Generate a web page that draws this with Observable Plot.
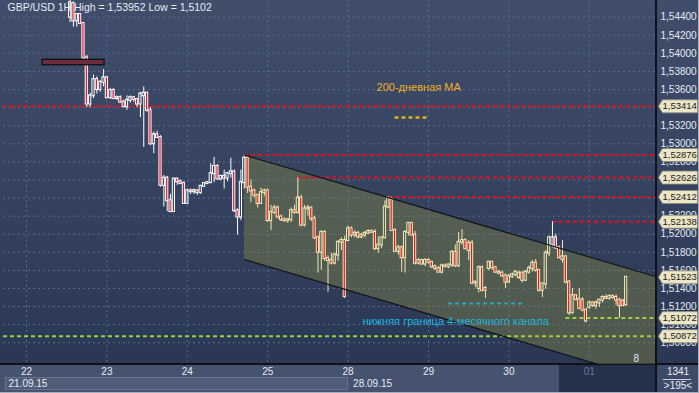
<!DOCTYPE html>
<html><head><meta charset="utf-8">
<script src="https://cdn.jsdelivr.net/npm/d3@7"></script>
<script src="https://cdn.jsdelivr.net/npm/@observablehq/plot@0.6"></script>
<style>
body{margin:0;background:#3a4866;}
#wrap{position:relative;width:699px;height:393px;overflow:hidden;font-family:"Liberation Sans",Arial,sans-serif;
 background:linear-gradient(to bottom,#404e6c 0px,#2a3856 364px,#45536f 364px,#45536f 393px);}
#wrap svg{position:absolute;left:0;top:0;}
.c{position:absolute;}
</style></head><body><div id="wrap"></div>
<script>
const hours=[13,14,15,16,17,18,19,20,21,22,23,24,25,26,27,28,29,30,31,32,33,34,35,36,37,38,39,40,41,42,43,44,45,46,47,48,49,50,51,52,53,54,55,56,57,58,59,60,61,62,63,64,65,66,67,68,69,70,71,72,73,74,75,76,77,78,79,80,81,82,83,84,85,86,87,88,89,90,91,92,93,94,95,96,97,98,99,100,101,102,103,104,105,106,107,108,109,110,111,112,113,114,115,116,117,118,119,120,121,122,123,124,125,126,127,128,129,130,131,132,133,134,135,136,137,138,139,140,141,142,143,144,145,146,147,148,149,150,151,152,153,154,155,156,157,158,159,160,161,162,163,164,165,166,167,168,169,170,171,172,173,174,175,176,177,178,179];
const open=[1.5440,1.5455,1.5436,1.5443,1.5433,1.5395,1.5344,1.5353,1.5371,1.5360,1.5368,1.5373,1.5351,1.5359,1.5350,1.5351,1.5346,1.5341,1.5348,1.5351,1.5349,1.5344,1.5353,1.5356,1.5337,1.5300,1.5310,1.5307,1.5254,1.5262,1.5237,1.5225,1.5261,1.5258,1.5256,1.5234,1.5248,1.5247,1.5248,1.5246,1.5253,1.5256,1.5257,1.5267,1.5275,1.5261,1.5264,1.5262,1.5267,1.5269,1.5226,1.5219,1.5257,1.5284,1.5252,1.5248,1.5243,1.5234,1.5246,1.5248,1.5215,1.5224,1.5229,1.5219,1.5216,1.5215,1.5216,1.5226,1.5224,1.5240,1.5210,1.5228,1.5229,1.5217,1.5196,1.5180,1.5202,1.5173,1.5171,1.5168,1.5177,1.5191,1.5193,1.5193,1.5206,1.5199,1.5201,1.5197,1.5199,1.5201,1.5203,1.5202,1.5184,1.5188,1.5196,1.5230,1.5238,1.5204,1.5181,1.5185,1.5174,1.5202,1.5212,1.5199,1.5168,1.5171,1.5167,1.5171,1.5169,1.5164,1.5162,1.5158,1.5165,1.5164,1.5166,1.5180,1.5165,1.5191,1.5193,1.5190,1.5190,1.5146,1.5140,1.5163,1.5140,1.5162,1.5169,1.5163,1.5158,1.5157,1.5154,1.5147,1.5153,1.5155,1.5152,1.5157,1.5149,1.5158,1.5162,1.5168,1.5160,1.5138,1.5145,1.5179,1.5188,1.5196,1.5185,1.5172,1.5175,1.5147,1.5113,1.5132,1.5128,1.5127,1.5116,1.5119,1.5124,1.5121,1.5124,1.5127,1.5130,1.5129,1.5131,1.5130,1.5127,1.5126,1.5122];
const high=[1.5464,1.5457,1.5444,1.5444,1.5434,1.5398,1.5356,1.5376,1.5374,1.5370,1.5382,1.5374,1.5361,1.5361,1.5353,1.5353,1.5348,1.5353,1.5353,1.5352,1.5350,1.5357,1.5363,1.5357,1.5340,1.5313,1.5314,1.5309,1.5265,1.5264,1.5244,1.5262,1.5262,1.5260,1.5258,1.5250,1.5250,1.5250,1.5249,1.5254,1.5257,1.5258,1.5278,1.5285,1.5277,1.5265,1.5271,1.5268,1.5284,1.5271,1.5228,1.5271,1.52876,1.5286,1.5260,1.5250,1.5244,1.5251,1.5250,1.5250,1.5232,1.5232,1.5231,1.5221,1.5218,1.5217,1.5229,1.5232,1.52626,1.5243,1.5232,1.5232,1.5230,1.5220,1.5198,1.5204,1.5204,1.5176,1.5179,1.5179,1.5193,1.5196,1.5198,1.5209,1.5208,1.5204,1.5203,1.5201,1.5203,1.5205,1.5205,1.5205,1.5197,1.5197,1.5237,1.52412,1.5241,1.5206,1.5188,1.5187,1.5204,1.5213,1.5213,1.5203,1.5173,1.5172,1.5173,1.5173,1.5170,1.5166,1.5164,1.5167,1.5167,1.5167,1.5182,1.5188,1.5202,1.5205,1.5195,1.5193,1.5193,1.5148,1.5165,1.5165,1.5142,1.5170,1.5170,1.5164,1.5160,1.5159,1.5156,1.5156,1.5157,1.5160,1.5159,1.5158,1.5160,1.5165,1.5171,1.5172,1.5161,1.5146,1.5182,1.5198,1.52138,1.5200,1.5187,1.5193,1.5176,1.5149,1.5140,1.5133,1.5140,1.5130,1.5118,1.5126,1.5125,1.5126,1.5128,1.5132,1.5133,1.5133,1.5133,1.5133,1.5129,1.5128,1.5153];
const low=[1.5434,1.5429,1.5429,1.5432,1.5392,1.5340,1.5340,1.5350,1.5355,1.5357,1.5363,1.5350,1.5349,1.5349,1.5348,1.5345,1.5340,1.5337,1.5345,1.5346,1.5340,1.5329,1.5296,1.5335,1.5298,1.5289,1.5306,1.5252,1.5230,1.5225,1.5224,1.5224,1.5254,1.5255,1.5233,1.5233,1.5244,1.5244,1.5243,1.5244,1.5252,1.5255,1.5256,1.5257,1.5260,1.5259,1.5250,1.5258,1.5262,1.5224,1.5199,1.5215,1.5250,1.5245,1.5235,1.5240,1.5229,1.5233,1.5242,1.5213,1.5204,1.5222,1.5217,1.5214,1.5213,1.5212,1.5213,1.5222,1.5222,1.5208,1.5208,1.5220,1.5214,1.5194,1.5157,1.5160,1.5170,1.5136,1.5166,1.5166,1.5170,1.5182,1.5129,1.5192,1.5196,1.5196,1.5195,1.5195,1.5196,1.5200,1.5201,1.5182,1.5179,1.5184,1.5195,1.5228,1.5203,1.5181,1.5177,1.5158,1.5157,1.5198,1.5198,1.5166,1.5166,1.5166,1.5164,1.5167,1.5162,1.5160,1.5157,1.5156,1.5163,1.5162,1.5163,1.5163,1.5163,1.5188,1.5183,1.5171,1.5144,1.5141,1.5135,1.5136,1.5129,1.5160,1.5160,1.5157,1.5155,1.5152,1.5140,1.5146,1.5151,1.5153,1.5150,1.5146,1.5148,1.5156,1.5158,1.5158,1.5136,1.5130,1.5139,1.5175,1.5185,1.5183,1.5173,1.5168,1.5145,1.5110,1.5112,1.5126,1.5117,1.5114,1.5102,1.5117,1.5119,1.5117,1.5119,1.5124,1.5128,1.5127,1.5128,1.5121,1.5107,1.5120,1.5120];
const close=[1.5456,1.5436,1.5443,1.5433,1.5395,1.5344,1.5353,1.5371,1.5360,1.5368,1.5373,1.5351,1.5359,1.5350,1.5351,1.5346,1.5341,1.5348,1.5351,1.5349,1.5344,1.5355,1.5356,1.5337,1.5300,1.5310,1.5307,1.5254,1.5262,1.5237,1.5225,1.5261,1.5258,1.5256,1.5234,1.5248,1.5247,1.5248,1.5246,1.5253,1.5256,1.5257,1.5267,1.5275,1.5261,1.5264,1.5262,1.5267,1.5269,1.5226,1.5219,1.5257,1.5284,1.5252,1.5248,1.5243,1.5234,1.5246,1.5248,1.5215,1.5224,1.5229,1.5219,1.5216,1.5215,1.5216,1.5226,1.5224,1.5240,1.5210,1.5228,1.5229,1.5217,1.5196,1.5180,1.5202,1.5173,1.5171,1.5168,1.5177,1.5191,1.5193,1.5131,1.5206,1.5199,1.5201,1.5197,1.5199,1.5201,1.5203,1.5202,1.5184,1.5188,1.5196,1.5230,1.5240,1.5204,1.5181,1.5185,1.5174,1.5202,1.5212,1.5199,1.5168,1.5171,1.5167,1.5171,1.5169,1.5164,1.5162,1.5158,1.5165,1.5164,1.5166,1.5180,1.5165,1.5191,1.5193,1.5184,1.5182,1.5146,1.5147,1.5163,1.5138,1.5138,1.5169,1.5163,1.5158,1.5157,1.5154,1.5147,1.5153,1.5155,1.5158,1.5157,1.5149,1.5158,1.5162,1.5168,1.5160,1.5138,1.5145,1.5179,1.5196,1.5196,1.5185,1.5174,1.5175,1.5147,1.5113,1.5132,1.5128,1.5118,1.5116,1.5104,1.5124,1.5121,1.5124,1.5127,1.5130,1.5129,1.5131,1.5130,1.5127,1.5121,1.5121,1.51523];

const dayStarts=[0,24,48,72,96,120,144,168];
const dayLabels=["22","23","24","25","28","29","30","01"];
const weekStarts=[-6.87,96];
const weekLabels=["21.09.15","28.09.15"];
const yTicks=[1.544,1.542,1.540,1.538,1.536,1.534,1.532,1.530,1.528,1.526,1.524,1.522,1.520,1.518,1.516,1.514,1.512,1.510,1.508];
const redLevels=[1.53414,1.52876,1.52626,1.52412,1.52138];
const redStarts=[-6.87,65,81,108,157];
const greenLevels=[1.51072,1.50872];
const greenStarts=[161,-6.87];
const tagLevels=[1.53414,1.52876,1.52626,1.52412,1.52138,1.51523,1.51072,1.50872];
const chX=[65.07,187.76], chTop=[1.52876,1.51532], chBot=[1.51720,1.50372];
const boxX=[4.8,23.3], boxP=[1.53869,1.53929];
const maSeg={x:[110,120],p:1.53291}, maLabel={x:104.5,p:1.53623,text:"200-дневная МА"};
const cySeg={x:[126,148],p:1.51234}, cyLabel={x:100.3,p:1.51034,text:"нижняя граница 4-месячного канала"};
const countLabel={x:181.2,p:1.50626,text:"8"};
const title="GBP/USD 1H High = 1,53952 Low = 1,5102";

const xDomain=[-6.87,187.76], yDomain=[1.50559,1.54585];
const candles=hours.map((h,k)=>({i:h,o:open[k],h:high[k],l:low[k],c:close[k]}));
const topAt=i=>chTop[0]+(chTop[1]-chTop[0])*(i-chX[0])/(chX[1]-chX[0]);
const inCh=d=>d.i>=chX[0] && (d.o+d.c)/2<=topAt(d.i);
const col=d=>inCh(d)?"#f4e8b4":"#ffffff";
const channel=[{x:chX[0],t:chTop[0],b:chBot[0]},{x:chX[1],t:chTop[1],b:chBot[1]}];
const fmt=d=>d.toFixed(5).replace(".",",");
const tagSymbol={draw(ctx){ctx.moveTo(3,0);ctx.lineTo(7,-6.5);ctx.lineTo(42,-6.5);ctx.lineTo(42,6.5);ctx.lineTo(7,6.5);ctx.closePath();}};
const dash="4,3";

const plot=Plot.plot({
  width:699,height:393,marginLeft:3,marginRight:44,marginTop:0,marginBottom:29,
  x:{domain:xDomain,axis:null},
  y:{domain:yDomain,axis:null},
  style:{background:"transparent",fontFamily:"'Liberation Sans',Arial,sans-serif",fontSize:"10px",color:"#e6ebf3"},
  marks:[
    Plot.ruleY(yTicks,{y:d=>d,stroke:"#5a6a8c",strokeDasharray:"2,3",strokeWidth:1}),
    Plot.ruleX(dayStarts,{x:d=>d,stroke:"#5a6a8c",strokeDasharray:"2,3",strokeWidth:1}),
    Plot.areaY(channel,{x:"x",y1:"b",y2:"t",fill:"#868a40",fillOpacity:0.4,clip:true}),
    Plot.ruleY(redLevels,{y:d=>d,x1:(d,k)=>redStarts[k],x2:xDomain[1],stroke:"#e3101c",strokeWidth:2,strokeDasharray:dash}),
    Plot.ruleY(greenLevels,{y:d=>d,x1:(d,k)=>greenStarts[k],x2:xDomain[1],stroke:"#9cd03c",strokeWidth:2,strokeDasharray:dash}),
    Plot.ruleY([cySeg],{y:"p",x1:d=>d.x[0],x2:d=>d.x[1],stroke:"#2aa6c4",strokeWidth:2,strokeDasharray:dash}),
    Plot.ruleY([maSeg],{y:"p",x1:d=>d.x[0],x2:d=>d.x[1],stroke:"#e2ae22",strokeWidth:2.5,strokeDasharray:dash}),
    Plot.ruleX(candles,{x:"i",y1:"h",y2:d=>Math.max(d.o,d.c),stroke:col,strokeWidth:1,clip:true}),
    Plot.ruleX(candles,{x:"i",y1:d=>Math.min(d.o,d.c),y2:"l",stroke:col,strokeWidth:1,clip:true}),
    Plot.rect(candles,{x1:d=>d.i-0.33,x2:d=>d.i+0.33,y1:"o",y2:"c",insetTop:-0.5,insetBottom:-0.5,
      fill:d=>d.c<d.o?"#e2142c":"none",stroke:col,strokeWidth:1,clip:true}),
    Plot.line(channel,{x:"x",y:"t",stroke:"#15161a",strokeWidth:1.3,clip:true}),
    Plot.line(channel,{x:"x",y:"b",stroke:"#15161a",strokeWidth:1.3,clip:true}),
    Plot.rect([0],{x1:boxX[0],x2:boxX[1],y1:boxP[0],y2:boxP[1],fill:"#6c2d3d",stroke:"#111",strokeWidth:1.3}),
    Plot.text([maLabel],{x:"x",y:"p",text:"text",textAnchor:"start",fill:"#f0b020",fontSize:11}),
    Plot.text([cyLabel],{x:"x",y:"p",text:"text",textAnchor:"start",fill:"#22b2de",fontSize:11}),
    Plot.text([countLabel],{x:"x",y:"p",text:"text",textAnchor:"start",fill:"#dfe6ee",fontSize:10}),
    Plot.text([title],{frameAnchor:"top-left",dx:4,dy:3,text:d=>d,fill:"#e6ecf4",fontSize:10.5}),
    Plot.axisY(yTicks,{anchor:"right",tickSize:0,tickPadding:5,tickFormat:fmt,fill:"#e6ebf3",fontSize:10}),
    Plot.dot(tagLevels,{y:d=>d,frameAnchor:"right",symbol:tagSymbol,r:4,fill:"#ece6c6",stroke:"#8d8d7e",strokeWidth:0.8}),
    Plot.text(tagLevels,{y:d=>d,frameAnchor:"right",dx:7,textAnchor:"start",text:fmt,fill:"#1b1b22",fontSize:9.5}),
    Plot.axisX(dayStarts,{anchor:"bottom",tickSize:0,tickPadding:3,tickFormat:(d,k)=>dayLabels[dayStarts.indexOf(d)],
      fill:d=>d===168?"#6b7997":"#e8edf4",fontSize:10}),
    Plot.axisX(weekStarts,{anchor:"bottom",tickSize:0,tickPadding:15,textAnchor:"start",dx:5,
      tickFormat:d=>weekLabels[weekStarts.indexOf(d)],fill:"#e8edf4",fontSize:10})
  ]
});

const wrap=document.getElementById("wrap");
const xs=plot.scale("x");
const x96=xs.apply(96), x159=xs.apply(159), xR=xs.apply(xDomain[1]);
function box(css){const d=document.createElement("div");d.className="c";d.style.cssText=css;wrap.appendChild(d);return d;}
box(`left:0;top:363px;width:699px;height:2px;background:#0e1118;`);
box(`left:5px;top:377px;width:${x96-5}px;height:13px;background:#4f5c77;border:1px solid #68748c;box-sizing:border-box;`);
box(`left:${x159}px;top:365px;width:${xR-x159}px;height:27px;background:#25314b;`);
box(`left:${xR}px;top:0;width:2px;height:393px;background:#0e1118;`);
box(`left:${xR+2}px;top:365px;width:${699-xR-2}px;height:28px;background:#3d4b68;`);
const t1=box(`left:${xR+2}px;top:366px;width:${699-xR-2}px;text-align:center;color:#e8edf4;font-size:10px;`);t1.textContent="1341";
box(`left:${xR+8}px;top:379px;width:${699-xR-16}px;height:1px;background:#c9d0dc;`);
const t2=box(`left:${xR+2}px;top:380px;width:${699-xR-2}px;text-align:center;color:#e8edf4;font-size:10px;`);t2.textContent=">195<";
box(`left:0;top:392px;width:699px;height:1px;background:#a7afbf;`);
box(`left:698px;top:0;width:1px;height:393px;background:#a7afbf;`);
wrap.appendChild(plot);
</script></body></html>
